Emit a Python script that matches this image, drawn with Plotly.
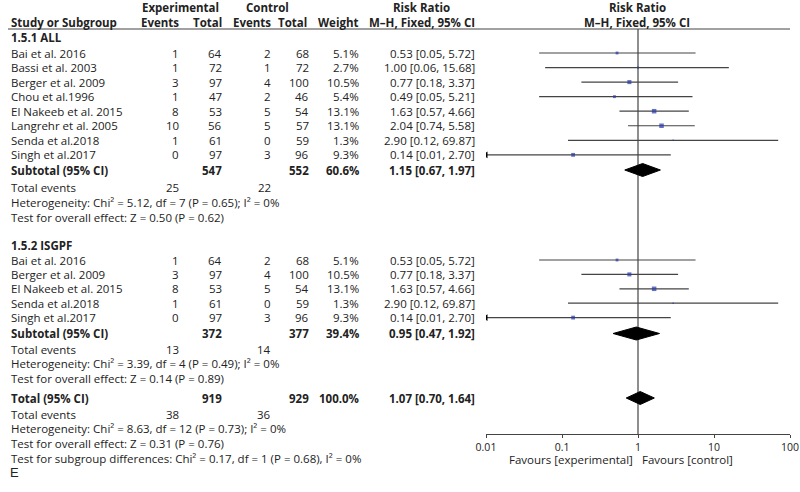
import plotly.graph_objects as go

# ---- data ----
g1_name = "1.5.1 ALL"
g1_studies = ["Bai et al. 2016", "Bassi et al. 2003", "Berger et al. 2009", "Chou et al.1996",
              "El Nakeeb et al. 2015", "Langrehr et al. 2005", "Senda et al.2018", "Singh et al.2017"]
g1_ev_exp = [1, 1, 3, 1, 8, 10, 1, 0]
g1_tot_exp = [64, 72, 97, 47, 53, 56, 61, 97]
g1_ev_ctl = [2, 1, 4, 2, 5, 5, 0, 3]
g1_tot_ctl = [68, 72, 100, 46, 54, 57, 59, 96]
g1_weight = [5.1, 2.7, 10.5, 5.4, 13.1, 13.1, 1.3, 9.3]
g1_rr = [0.53, 1.00, 0.77, 0.49, 1.63, 2.04, 2.90, 0.14]
g1_lo = [0.05, 0.06, 0.18, 0.05, 0.57, 0.74, 0.12, 0.01]
g1_hi = [5.72, 15.68, 3.37, 5.21, 4.66, 5.58, 69.87, 2.70]
g1_sub = dict(tot_exp=547, tot_ctl=552, weight=60.6, rr=1.15, lo=0.67, hi=1.97,
              ev_exp=25, ev_ctl=22,
              het="Heterogeneity: Chi² = 5.12, df = 7 (P = 0.65); I² = 0%",
              test="Test for overall effect: Z = 0.50 (P = 0.62)")

g2_name = "1.5.2 ISGPF"
g2_studies = ["Bai et al. 2016", "Berger et al. 2009", "El Nakeeb et al. 2015", "Senda et al.2018", "Singh et al.2017"]
g2_ev_exp = [1, 3, 8, 1, 0]
g2_tot_exp = [64, 97, 53, 61, 97]
g2_ev_ctl = [2, 4, 5, 0, 3]
g2_tot_ctl = [68, 100, 54, 59, 96]
g2_weight = [5.1, 10.5, 13.1, 1.3, 9.3]
g2_rr = [0.53, 0.77, 1.63, 2.90, 0.14]
g2_lo = [0.05, 0.18, 0.57, 0.12, 0.01]
g2_hi = [5.72, 3.37, 4.66, 69.87, 2.70]
g2_sub = dict(tot_exp=372, tot_ctl=377, weight=39.4, rr=0.95, lo=0.47, hi=1.92,
              ev_exp=13, ev_ctl=14,
              het="Heterogeneity: Chi² = 3.39, df = 4 (P = 0.49); I² = 0%",
              test="Test for overall effect: Z = 0.14 (P = 0.89)")

total = dict(tot_exp=919, tot_ctl=929, weight=100.0, rr=1.07, lo=0.70, hi=1.64,
             ev_exp=38, ev_ctl=36,
             het="Heterogeneity: Chi² = 8.63, df = 12 (P = 0.73); I² = 0%",
             test="Test for overall effect: Z = 0.31 (P = 0.76)",
             sub="Test for subgroup differences: Chi² = 0.17, df = 1 (P = 0.68), I² = 0%")

tick_vals = [0.01, 0.1, 1, 10, 100]
tick_text = ["0.01", "0.1", "1", "10", "100"]

# ---- layout constants (pixels) ----
W, H = 800, 492
FONT = "Open Sans"
FS = 11.5
TXT = "#222222"
LINE = "#444444"
BLUE = "#2438a8"
X_LABEL = 10
X_EVE, X_TOE, X_EVC, X_TOC, X_WT, X_RR = 180, 223, 272, 310, 360, 476
STEP = 14.55

g1_rows = [53 + i * STEP for i in range(len(g1_studies))]
g1_subrow = 170
g1_extra = [187, 202, 217]
g2_head = 245
g2_rows = [260 + i * 14.4 for i in range(len(g2_studies))]
g2_subrow = 333.5
g2_extra = [349, 363, 378]
tot_row = 398
tot_extra = [414, 428, 443, 458]
AXIS_Y = 434

fig = go.Figure()
ann = []


def txt(x, y, s, anchor="left", bold=False, size=FS):
    if bold:
        s = "<b>" + s + "</b>"
    ann.append(dict(x=x / W, y=y, xref="paper", yref="y", text=s, showarrow=False,
                    xanchor=anchor, yanchor="middle", borderpad=0,
                    font=dict(family=FONT, size=size, color=TXT)))


# headers
txt(180, 7, "Experimental", "center", True)
txt(267, 7, "Control", "center", True)
txt(421, 7, "Risk Ratio", "center", True)
txt(637, 7, "Risk Ratio", "center", True)
txt(X_LABEL, 22, "Study or Subgroup", bold=True)
txt(X_EVE, 22, "Events", "right", True)
txt(X_TOE, 22, "Total", "right", True)
txt(X_EVC, 22, "Events", "right", True)
txt(X_TOC - 2, 22, "Total", "right", True)
txt(X_WT - 1, 22, "Weight", "right", True)
txt(X_RR, 22, "M–H, Fixed, 95% CI", "right", True)
txt(637, 22, "M–H, Fixed, 95% CI", "center", True)


def rr_str(r, lo, hi):
    return f"{r:.2f} [{lo:.2f}, {hi:.2f}]"


def study_block(rows, names, ee, te, ec, tc, wt, rr, lo, hi):
    for y, n, a, b, c, d, w, r, l, h in zip(rows, names, ee, te, ec, tc, wt, rr, lo, hi):
        txt(X_LABEL, y, n)
        txt(X_EVE, y, str(a), "right")
        txt(X_TOE, y, str(b), "right")
        txt(X_EVC, y, str(c), "right")
        txt(X_TOC, y, str(d), "right")
        txt(X_WT, y, f"{w:.1f}%", "right")
        txt(X_RR, y, rr_str(r, l, h), "right")
    xs, ys = [], []
    for y, l, h in zip(rows, lo, hi):
        xs += [l, h, None]
        ys += [y, y, None]
    fig.add_trace(go.Scatter(x=xs, y=ys, mode="lines", line=dict(color=LINE, width=1.2),
                             hoverinfo="skip", showlegend=False))
    fig.add_trace(go.Scatter(x=rr, y=rows, mode="markers", showlegend=False,
                             marker=dict(symbol="square", color=BLUE,
                                         size=[1.25 * w ** 0.5 for w in wt], line=dict(width=0))))
    # arrows where CI hits the axis limit
    arr_y = [y for y, l in zip(rows, lo) if l <= tick_vals[0]]
    if arr_y:
        fig.add_trace(go.Scatter(x=[tick_vals[0]] * len(arr_y), y=arr_y, mode="markers",
                                 showlegend=False,
                                 marker=dict(symbol="triangle-left", color="black", size=6)))


def diamond(y, s, half=6.5):
    fig.add_trace(go.Scatter(x=[s["lo"], s["rr"], s["hi"], s["rr"], s["lo"]],
                             y=[y, y - half, y, y + half, y], mode="lines", fill="toself",
                             fillcolor="black", line=dict(color="black", width=1),
                             hoverinfo="skip", showlegend=False))


def summary(y, label, s):
    txt(X_LABEL, y, label, bold=True)
    txt(X_TOE, y, str(s["tot_exp"]), "right", True)
    txt(X_TOC, y, str(s["tot_ctl"]), "right", True)
    txt(X_WT, y, f"{s['weight']:.1f}%", "right", True)
    txt(X_RR, y, rr_str(s["rr"], s["lo"], s["hi"]), "right", True)
    diamond(y, s)


def extras(ys, s):
    txt(X_LABEL, ys[0], "Total events")
    txt(X_EVE, ys[0], str(s["ev_exp"]), "right")
    txt(X_EVC, ys[0], str(s["ev_ctl"]), "right")
    txt(X_LABEL, ys[1], s["het"])
    txt(X_LABEL, ys[2], s["test"])


# null line
fig.add_trace(go.Scatter(x=[1, 1], y=[29, AXIS_Y], mode="lines", line=dict(color=LINE, width=1.2),
                         hoverinfo="skip", showlegend=False))

txt(X_LABEL, 37, g1_name, bold=True)
study_block(g1_rows, g1_studies, g1_ev_exp, g1_tot_exp, g1_ev_ctl, g1_tot_ctl, g1_weight, g1_rr, g1_lo, g1_hi)
summary(g1_subrow, "Subtotal (95% CI)", g1_sub)
extras(g1_extra, g1_sub)

txt(X_LABEL, g2_head, g2_name, bold=True)
study_block(g2_rows, g2_studies, g2_ev_exp, g2_tot_exp, g2_ev_ctl, g2_tot_ctl, g2_weight, g2_rr, g2_lo, g2_hi)
summary(g2_subrow, "Subtotal (95% CI)", g2_sub)
extras(g2_extra, g2_sub)

summary(tot_row, "Total (95% CI)", total)
extras(tot_extra, total)
txt(X_LABEL, tot_extra[3], total["sub"])

txt(634, 459.5, "Favours [experimental]", "right")
txt(641, 459.5, "Favours [control]", "left")
ann.append(dict(x=8 / W, y=472, xref="paper", yref="y", text="E", showarrow=False,
                xanchor="left", yanchor="middle", font=dict(family="Liberation Sans", size=13, color=TXT)))

fig.update_layout(
    width=W, height=H, margin=dict(l=0, r=0, t=0, b=0),
    paper_bgcolor="white", plot_bgcolor="white",
    annotations=ann,
    shapes=[dict(type="line", xref="paper", yref="y", x0=8 / W, x1=790 / W, y0=29, y1=29,
                 line=dict(color=LINE, width=1.2))],
    xaxis=dict(type="log", range=[-2, 2], domain=[486 / W, 790 / W], anchor="free",
               position=1 - AXIS_Y / H, showline=True, linecolor=LINE, linewidth=1.2,
               ticks="outside", ticklen=3, tickcolor=LINE, tickvals=tick_vals, ticktext=tick_text,
               ticklabeloverflow="allow", automargin=False, ticklabelstandoff=0,
               showgrid=False, zeroline=False, tickfont=dict(family=FONT, size=10.5, color=TXT)),
    yaxis=dict(range=[H, 0], domain=[0, 1], visible=False, showgrid=False, zeroline=False),
    showlegend=False,
)

fig.write_html("out.html", config={"displayModeBar": False},
               post_script="document.body.style.margin='0px';")
